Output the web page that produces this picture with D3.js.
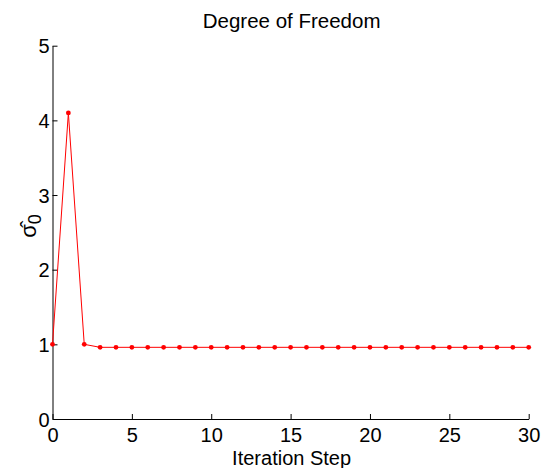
<!DOCTYPE html>
<html>
<head>
<meta charset="utf-8">
<script src="https://cdn.jsdelivr.net/npm/d3@7"></script>
<style>
  html, body { margin: 0; padding: 0; background: #fff; }
  text { font-family: "Liberation Sans", Arial, Helvetica, sans-serif; fill: #000; }
</style>
</head>
<body>
<svg id="chart" width="542" height="468"></svg>
<script>
// Estimated sigma_0 per iteration step
const steps = d3.range(0, 31);
const sigma = [1.0, 4.1, 1.0, 0.96, 0.96, 0.96, 0.96, 0.96, 0.96, 0.96,
               0.96, 0.96, 0.96, 0.96, 0.96, 0.96, 0.96, 0.96, 0.96, 0.96,
               0.96, 0.96, 0.96, 0.96, 0.96, 0.96, 0.96, 0.96, 0.96, 0.96, 0.96];
const xTicks = [0, 5, 10, 15, 20, 25, 30];
const yTicks = [0, 1, 2, 3, 4, 5];

const titleText = "Degree of Freedom";
const xLabel = "Iteration Step";

const svg = d3.select("#chart");
const margin = { left: 52.5, right: 542 - 528.7, top: 45.7, bottom: 468 - 419 };
const W = 542, H = 468;

const x = d3.scaleLinear().domain([0, 30]).range([margin.left, W - margin.right]);
const y = d3.scaleLinear().domain([0, 5]).range([H - margin.bottom, margin.top]);

// Axes with inward ticks
const xAxis = d3.axisBottom(x).tickValues(xTicks).tickFormat(d3.format("d"))
  .tickSize(-5).tickPadding(8.5).tickSizeOuter(0);
const yAxis = d3.axisLeft(y).tickValues(yTicks).tickFormat(d3.format("d"))
  .tickSize(-5).tickPadding(3).tickSizeOuter(0);

const gx = svg.append("g").attr("transform", `translate(0,${y(0)})`).call(xAxis);
const gy = svg.append("g").attr("transform", `translate(${x(0)},0)`).call(yAxis);

[gx, gy].forEach(g => {
  g.select(".domain").attr("stroke", "#000").attr("stroke-width", 1);
  g.selectAll(".tick line").attr("stroke", "#000").attr("stroke-width", 1);
  g.selectAll(".tick text").attr("font-size", 20).attr("fill", "#000")
    .style("font-family", '"Liberation Sans", Arial, sans-serif');
});
gy.selectAll(".tick text").attr("dy", "0.36em");

// Series line and markers
const line = d3.line().x((d, i) => x(steps[i])).y(d => y(d));
svg.append("path")
  .datum(sigma)
  .attr("fill", "none")
  .attr("stroke", "#ff0000")
  .attr("stroke-width", 1)
  .attr("d", line);

svg.append("g").selectAll("circle")
  .data(sigma)
  .join("circle")
  .attr("cx", (d, i) => x(steps[i]))
  .attr("cy", d => y(d))
  .attr("r", 2.4)
  .attr("fill", "#ff0000");

// Title
svg.append("text")
  .attr("x", (x(0) + x(30)) / 2 + 1)
  .attr("y", 28)
  .attr("text-anchor", "middle")
  .attr("font-size", 20.5)
  .text(titleText);

// X-axis label
svg.append("text")
  .attr("x", (x(0) + x(30)) / 2 + 1)
  .attr("y", 464.5)
  .attr("text-anchor", "middle")
  .attr("font-size", 20)
  .text(xLabel);

// Y-axis label: sigma-hat with subscript 0
const yl = svg.append("text")
  .attr("transform", `translate(36,226) rotate(-90)`)
  .attr("text-anchor", "middle")
  .attr("font-size", 22);
yl.append("tspan").text("\u03C3\u0302");
yl.append("tspan").attr("dy", 5).attr("font-size", 18).text("0");
</script>
</body>
</html>
